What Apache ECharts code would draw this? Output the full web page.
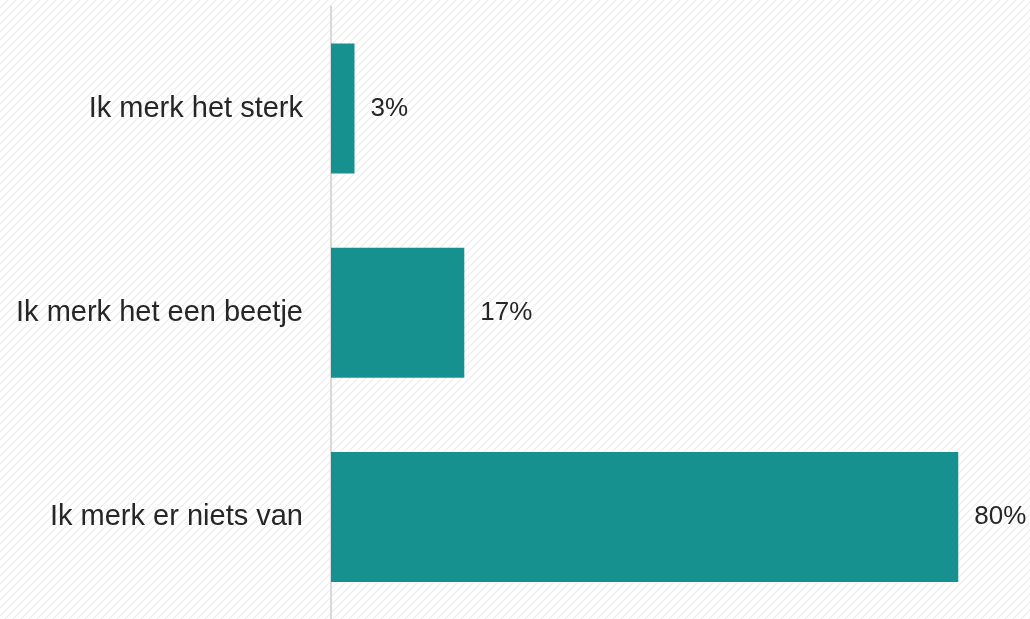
<!DOCTYPE html>
<html><head><meta charset="utf-8">
<script src="https://cdn.jsdelivr.net/npm/echarts@6/dist/echarts.min.js"></script>
<style>html,body{margin:0;padding:0;background:#fff}#c{width:1030px;height:619px}</style>
</head><body><div id="c"></div>
<script>
const categories = ['Ik merk het sterk', 'Ik merk het een beetje', 'Ik merk er niets van'];
const values = [3, 17, 80];

const pat = document.createElement('canvas');
pat.width = 8; pat.height = 8;
const g = pat.getContext('2d');
g.fillStyle = '#ffffff'; g.fillRect(0, 0, 8, 8);
g.strokeStyle = '#ececec'; g.lineWidth = 1.2;
g.beginPath();
g.moveTo(0, 8); g.lineTo(8, 0);
g.moveTo(-2, 2); g.lineTo(2, -2);
g.moveTo(6, 10); g.lineTo(10, 6);
g.stroke();

const chart = echarts.init(document.getElementById('c'));
chart.setOption({
  backgroundColor: { image: pat, repeat: 'repeat' },
  animation: false,
  grid: { left: 331, width: 690, top: 6.5, height: 615, containLabel: false },
  xAxis: { type: 'value', min: 0, max: 88, show: false },
  yAxis: {
    type: 'category', data: categories, inverse: true,
    axisLine: { show: true, lineStyle: { color: '#d9d9d9', width: 2 } },
    axisTick: { show: false },
    axisLabel: { margin: 28, fontSize: 29, color: '#262626', fontFamily: 'Liberation Sans, Arial, sans-serif' }
  },
  series: [{
    type: 'bar', data: values, barWidth: 130,
    itemStyle: { color: '#17918f' },
    label: {
      show: true, position: 'right', distance: 16,
      formatter: p => p.value + '%',
      fontSize: 26, color: '#262626', fontFamily: 'Liberation Sans, Arial, sans-serif'
    }
  }]
});
</script></body></html>
